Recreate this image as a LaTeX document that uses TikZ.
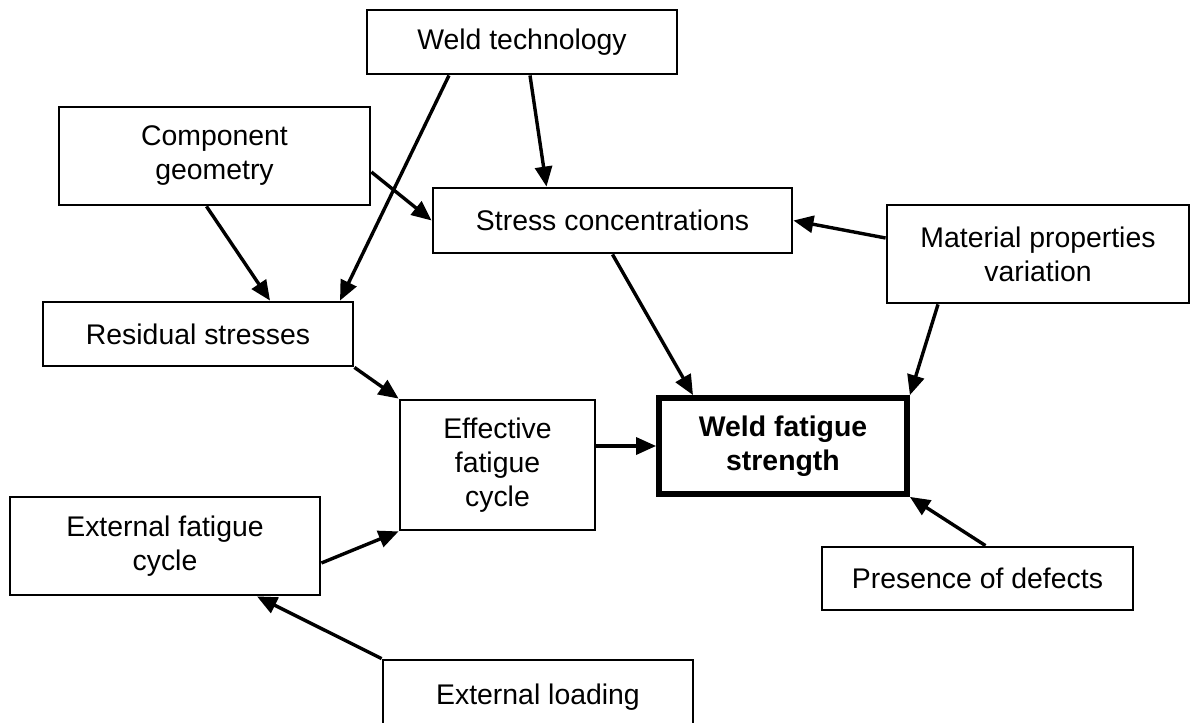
\documentclass[tikz,border=0pt]{standalone}
\usepackage{fontspec}
\setmainfont{Liberation Sans}
\usetikzlibrary{arrows.meta}
\tikzset{
	blk/.style={draw, line width=1.4pt, align=center, inner sep=0pt,
		font=\fontsize{14.2}{17}\selectfont},
	wfsblk/.style={blk, line width=2.9pt, font=\fontsize{14.2}{17}\selectfont\bfseries},
	arr/.style={line width=1.7pt, -{Triangle[length=10pt,width=8.5pt]}},
}

\begin{document}
\begin{tikzpicture}[x=0.5pt, y=-0.5pt]
	\clip (0,0) rectangle (1191,723);

	\node [blk, minimum width=155pt, minimum height=32pt] (wt) at (522,42) {Weld technology};
	\node [blk, minimum width=155.5pt, minimum height=49pt] (geo) at (214.5,156) {Component\\geometry};
	\node [blk, minimum width=179.5pt, minimum height=32.5pt] (sc) at (612.5,220.5) {Stress concentrations};
	\node [blk, minimum width=151pt, minimum height=49pt] (mat) at (1038,254) {Material properties\\variation};
	\node [blk, minimum width=155pt, minimum height=32pt] (res) at (198,334) {Residual stresses};
	\node [blk, minimum width=97.5pt, minimum height=65pt] (eff) at (497.5,465) {Effective\\fatigue\\cycle};
	\node [wfsblk, minimum width=124pt, minimum height=48pt] (wfs) at (783,446) {Weld fatigue\\strength};
	\node [blk, minimum width=155pt, minimum height=49pt] (extf) at (165,546) {External fatigue\\cycle};
	\node [blk, minimum width=155.5pt, minimum height=31.5pt] (def) at (977.5,578.5) {Presence of defects};
	\node [blk, minimum width=155pt, minimum height=34pt, text depth=0pt] (extl) at (538,694) {External loading};

	\draw [arr] ([xshift=-36.5pt]wt.south) -- ([xshift=71pt]res.north);
	\draw [arr] ([xshift=4pt]wt.south) -- ([xshift=-33pt]sc.north);
	\draw [arr] ([yshift=-8pt]geo.east) -- (sc.west);
	\draw [arr] ([xshift=-4pt]geo.south) -- ([xshift=36pt]res.north);
	\draw [arr] (sc.south) -- ([xshift=-45pt]wfs.north);
	\draw [arr] ([yshift=8pt]mat.west) -- (sc.east);
	\draw [arr] ([xshift=-50pt]mat.south) -- (wfs.north east);
	\draw [arr] ([xshift=4pt]def.north) -- (wfs.south east);
	\draw [arr] (eff.east |- wfs.west) -- (wfs.west);
	\draw [arr] (res.south east) -- (eff.north west);
	\draw [arr] ([yshift=-8.5pt]extf.east) -- (eff.south west);
	\draw [arr] (extl.north west) -- ([xshift=46pt]extf.south);
\end{tikzpicture}
\end{document}
